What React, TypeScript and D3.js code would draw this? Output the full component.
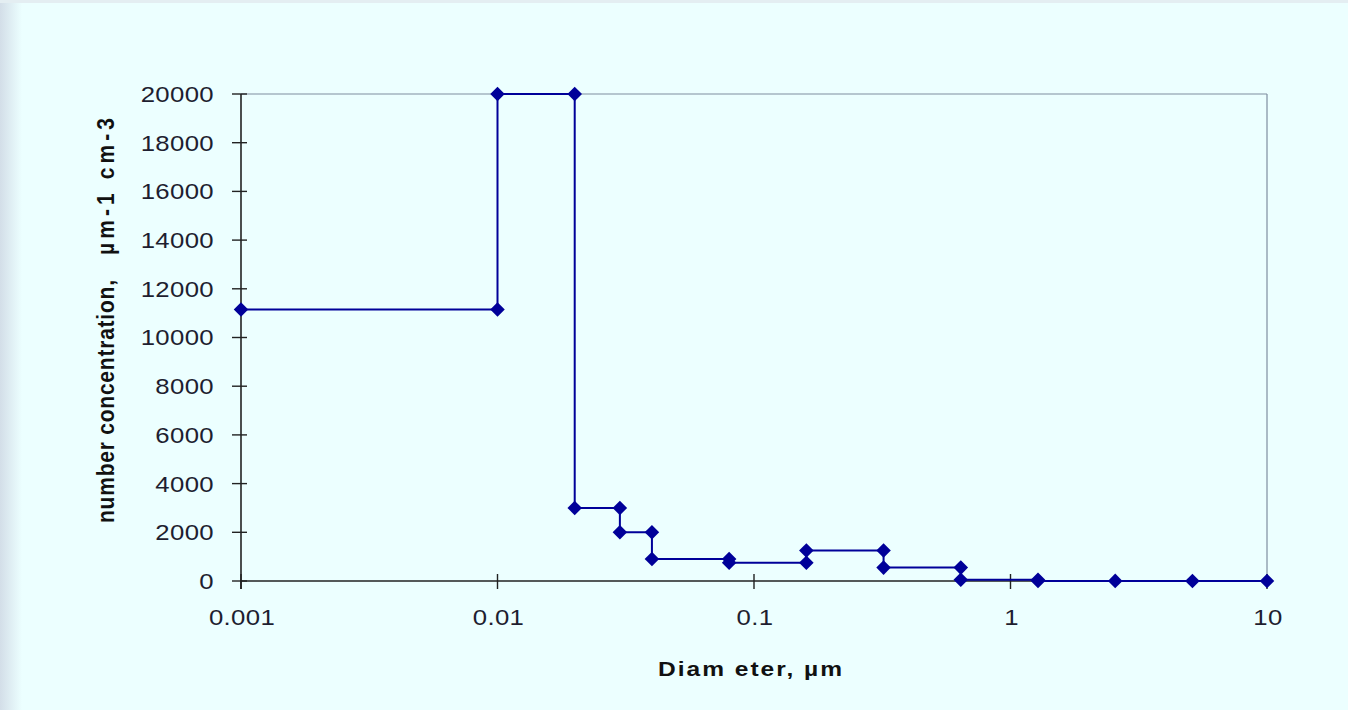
import React from 'react';
import * as d3 from 'd3';

// step-histogram points (diameter in µm, concentration µm-1 cm-3)
const diameters = [
  0.001, 0.01, 0.01, 0.02, 0.02, 0.03, 0.03, 0.04, 0.04, 0.08, 0.08, 0.16,
  0.16, 0.32, 0.32, 0.64, 0.64, 1.28, 1.28, 2.56, 5.12, 10,
];
const concentrations = [
  11150, 11150, 20000, 20000, 3000, 3000, 2000, 2000, 900, 900, 750, 750,
  1250, 1250, 550, 550, 50, 50, 5, 5, 2, 0,
];
const xTicks = [0.001, 0.01, 0.1, 1, 10];
const xTickLabels = ['0.001', '0.01', '0.1', '1', '10'];
const yTicks = [0, 2000, 4000, 6000, 8000, 10000, 12000, 14000, 16000, 18000, 20000];

const W = 1348;
const H = 710;
const plot = { left: 241, right: 1267, top: 94, bottom: 581 };
const lineColor = '#000099';
const font = '"Liberation Sans", Arial, sans-serif';
const labelColor = '#1e1e30';
const stretch = 1.17; // the source picture is stretched sideways

const App = () => {
  const x = d3.scaleLog().domain([0.001, 10]).range([plot.left, plot.right]);
  const y = d3.scaleLinear().domain([0, 20000]).range([plot.bottom, plot.top]);

  const points = diameters.map((d, i) => [d, concentrations[i]] as [number, number]);
  const line = d3
    .line<[number, number]>()
    .x((p) => x(p[0]))
    .y((p) => y(p[1]));
  const diamond = d3.symbol().type(d3.symbolDiamond2).size(135)();

  return (
    <svg
      width={W}
      height={H}
      style={{ position: 'absolute', left: 0, top: 0, display: 'block' }}
    >
      <defs>
        <linearGradient id="edge" x1="0" x2="1" y1="0" y2="0">
          <stop offset="0" stopColor="#d3dee8" />
          <stop offset="1" stopColor="#ecffff" />
        </linearGradient>
      </defs>
      <rect x={0} y={0} width={W} height={H} fill="#ecffff" />
      <rect x={0} y={0} width={22} height={H} fill="url(#edge)" />
      <rect x={0} y={0} width={W} height={3} fill="#e4eef2" />

      {/* plot frame: top and right */}
      <line x1={plot.left} x2={plot.right} y1={plot.top} y2={plot.top} stroke="#7f8ea0" strokeWidth={1.2} />
      <line x1={plot.right} x2={plot.right} y1={plot.top} y2={plot.bottom} stroke="#7f8ea0" strokeWidth={1.2} />

      {/* axes */}
      <line x1={plot.left} x2={plot.right} y1={plot.bottom} y2={plot.bottom} stroke="#222" strokeWidth={1.6} />
      <line x1={plot.left} x2={plot.left} y1={plot.top} y2={plot.bottom + 8} stroke="#222" strokeWidth={1.6} />

      {yTicks.map((t) => (
        <g key={t}>
          <line x1={plot.left - 9} x2={plot.left + 6} y1={y(t)} y2={y(t)} stroke="#222" strokeWidth={1.4} />
          <text
            transform={`translate(${plot.left - 27},${y(t)}) scale(${stretch},1)`}
            dy="0.36em"
            textAnchor="end"
            fontFamily={font}
            fontSize={22}
            letterSpacing={0.3}
            fill={labelColor}
          >
            {t}
          </text>
        </g>
      ))}

      {xTicks.map((t, i) => (
        <g key={t}>
          <line x1={x(t)} x2={x(t)} y1={plot.bottom - 7} y2={plot.bottom + 8} stroke="#222" strokeWidth={1.4} />
          <text
            transform={`translate(${x(t) + 1},${plot.bottom + 44}) scale(${stretch},1)`}
            textAnchor="middle"
            fontFamily={font}
            fontSize={22}
            letterSpacing={0.3}
            fill={labelColor}
          >
            {xTickLabels[i]}
          </text>
        </g>
      ))}

      {/* series */}
      <path d={line(points) ?? ''} fill="none" stroke={lineColor} strokeWidth={2} />
      {points.map((p, i) => (
        <path key={i} d={diamond ?? ''} transform={`translate(${x(p[0])},${y(p[1])})`} fill={lineColor} />
      ))}

      <text
        transform={`translate(658,676) scale(${stretch},1)`}
        fontFamily={font}
        fontSize={21}
        fontWeight="bold"
        fill="#111"
        textLength={184 / stretch}
        lengthAdjust="spacing"
      >
        Diam eter, µm
      </text>
      <g transform={`translate(114, 0) scale(${stretch},1) rotate(-90)`}>
        <text
          x={-523}
          y={0}
          fontFamily={font}
          fontSize={21}
          fontWeight="bold"
          fill="#111"
          textLength={243}
          lengthAdjust="spacing"
        >
          number concentration,
        </text>
        <text
          x={-255}
          y={0}
          fontFamily={font}
          fontSize={21}
          fontWeight="bold"
          fill="#111"
          textLength={137}
          lengthAdjust="spacing"
        >
          µm-1 cm-3
        </text>
      </g>
    </svg>
  );
};

export default App;
